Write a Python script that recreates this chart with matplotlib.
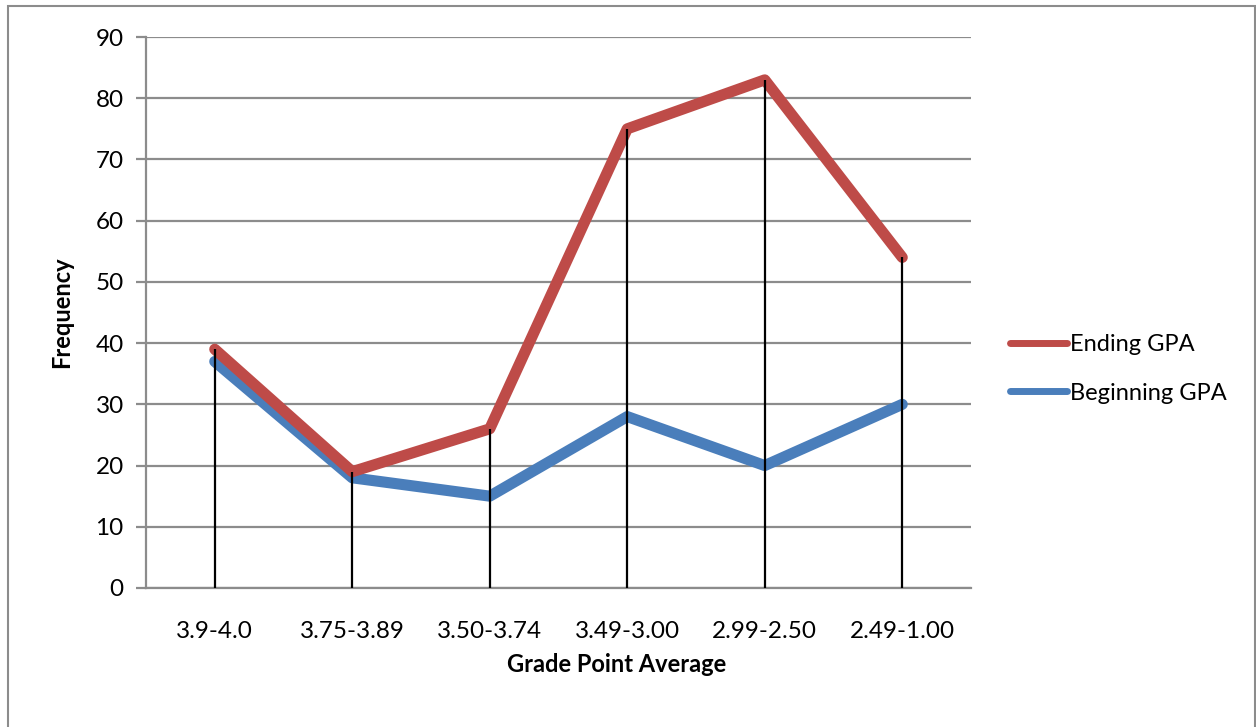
import matplotlib
matplotlib.use("Agg")
import matplotlib.pyplot as plt
from matplotlib.patches import Rectangle
import numpy as np

categories = ["3.9-4.0", "3.75-3.89", "3.50-3.74", "3.49-3.00", "2.99-2.50", "2.49-1.00"]
ending_gpa = [39, 19, 26, 75, 83, 54]
beginning_gpa = [37, 18, 15, 28, 20, 30]
yticks = [0, 10, 20, 30, 40, 50, 60, 70, 80, 90]

plt.rcParams['font.family'] = ['Lato', 'DejaVu Sans']

W, H = 1256, 727
fig = plt.figure(figsize=(W / 100, H / 100), dpi=100)
fig.patch.set_facecolor('white')

# chart border
fig.add_artist(Rectangle((8 / W, -0.01), (1255 - 8) / W, 1 - 6 / H + 0.01,
                         transform=fig.transFigure, fill=False,
                         edgecolor='#8c8c8c', linewidth=1.5))

left, right, top, bottom = 146, 971, 37, 588
ax = fig.add_axes([left / W, 1 - bottom / H, (right - left) / W, (bottom - top) / H])

x = np.arange(len(categories))
ax.set_xlim(-0.5, len(categories) - 0.5)
ax.set_ylim(0, 90)

ax.set_yticks(yticks)
ax.yaxis.grid(True, color='#8c8c8c', linewidth=1.6)
ax.set_axisbelow(True)

for s in ['top', 'right']:
    ax.spines[s].set_visible(False)
ax.spines['left'].set_color('#8c8c8c')
ax.spines['left'].set_linewidth(1.6)
ax.spines['bottom'].set_color('#8c8c8c')
ax.spines['bottom'].set_linewidth(1.6)

ax.tick_params(axis='y', length=7, width=1.6, color='#8c8c8c', labelsize=17.5, pad=9)
ax.tick_params(axis='x', length=0, labelsize=17.5, pad=24)
ax.set_xticks(x)
ax.set_xticklabels(categories)

ax.plot(x, beginning_gpa, color='#4A7EBB', linewidth=8, solid_capstyle='round',
        solid_joinstyle='round', label='Beginning GPA', zorder=3)
ax.plot(x, ending_gpa, color='#BE4B48', linewidth=8, solid_capstyle='round',
        solid_joinstyle='round', label='Ending GPA', zorder=4)

tops = np.maximum(ending_gpa, beginning_gpa)
ax.vlines(x, 0, tops, color='black', linewidth=1.6, zorder=5)

ax.set_ylabel('Frequency', fontsize=17, fontweight='bold', va='center')
ax.yaxis.set_label_coords((62 - left) / (right - left), 0.5)
ax.set_xlabel('Grade Point Average', fontsize=17, fontweight='bold', va='center')
ax.xaxis.set_label_coords((617 - left) / (right - left), -(664 - bottom) / (bottom - top))

handles, labels = ax.get_legend_handles_labels()
leg = fig.legend(handles[::-1], labels[::-1], loc='center left',
                 bbox_to_anchor=(1010 / W, 1 - 369 / H), frameon=False,
                 fontsize=17, handlelength=2.4, handletextpad=0.15,
                 labelspacing=1.15, borderpad=0, borderaxespad=0)
for line in leg.get_lines():
    line.set_linewidth(5)

fig.savefig('out.png', dpi=100)
